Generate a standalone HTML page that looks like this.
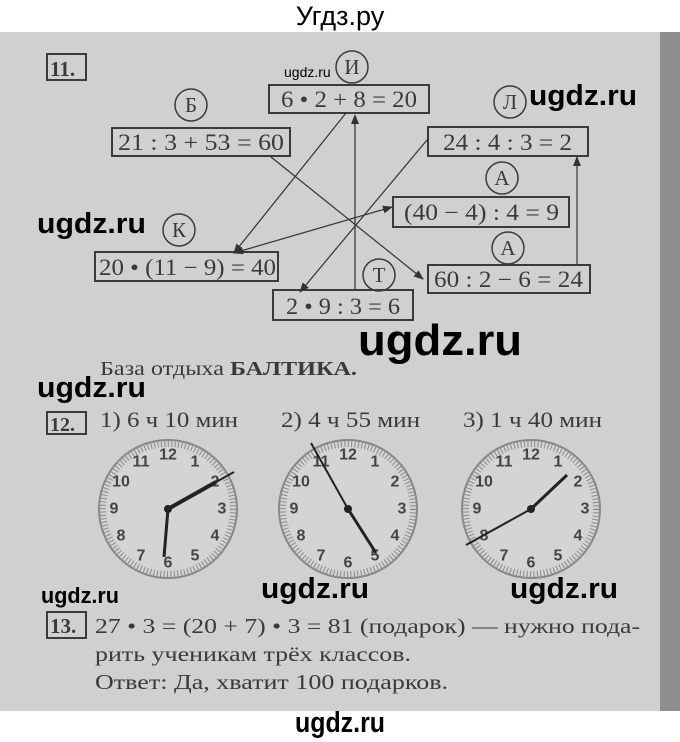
<!DOCTYPE html>
<html><head><meta charset="utf-8"><style>
html,body{margin:0;padding:0;background:#fff}
svg{display:block}
.s{font-family:"Liberation Serif",serif;fill:#3a3a3a}
.w{font-family:"Liberation Sans",sans-serif;font-weight:bold;fill:#000}
.n{font-family:"Liberation Sans",sans-serif;font-weight:bold;font-size:16px;fill:#444;text-anchor:middle;dominant-baseline:central}
</style></head><body>
<svg width="680" height="742" viewBox="0 0 680 742" xmlns="http://www.w3.org/2000/svg">
<defs><marker id="a" markerWidth="10" markerHeight="8" refX="9" refY="4" orient="auto" markerUnits="userSpaceOnUse"><path d="M0,0 L10,4 L0,8 z" fill="#333"/></marker>
<marker id="b" markerWidth="10" markerHeight="8" refX="1" refY="4" orient="auto" markerUnits="userSpaceOnUse"><path d="M10,0 L0,4 L10,8 z" fill="#333"/></marker></defs>
<rect x="0" y="0" width="680" height="742" fill="#fff"/>
<rect x="0" y="32" width="680" height="679" fill="#d0d0d0"/>
<rect x="660" y="32" width="20" height="679" fill="#8f8f8f"/>
<text x="340" y="25" font-family="Liberation Sans, sans-serif" font-size="27" text-anchor="middle" fill="#000">Угдз.ру</text>
<g stroke="#3a3a3a" fill="none" stroke-width="2">
<rect x="47" y="54" width="39" height="26"/>
<rect x="269" y="85" width="160" height="28"/>
<rect x="112" y="128" width="178" height="28"/>
<rect x="428" y="127" width="160" height="29"/>
<rect x="393" y="197" width="176" height="30"/>
<rect x="95" y="252" width="183" height="29"/>
<rect x="273" y="290" width="140" height="30"/>
<rect x="428" y="265" width="162" height="28"/>
<rect x="47" y="412" width="39" height="22"/>
<rect x="47" y="612" width="39" height="26"/>
<g stroke-width="1.5"><circle cx="352" cy="67" r="16"/><circle cx="191" cy="105" r="16"/><circle cx="510" cy="102" r="16"/><circle cx="502" cy="178" r="16"/><circle cx="179" cy="230" r="16"/><circle cx="379" cy="275" r="16"/><circle cx="508" cy="248" r="16"/></g>
</g>
<g stroke="#333" stroke-width="1.2" fill="none">
<line x1="346" y1="113" x2="234" y2="253" marker-end="url(#a)"/>
<line x1="355" y1="290" x2="355" y2="115" marker-end="url(#a)"/>
<line x1="427" y1="140" x2="300" y2="292" marker-end="url(#a)"/>
<line x1="271" y1="157" x2="423" y2="279" marker-end="url(#a)"/>
<line x1="234" y1="253" x2="392" y2="207" marker-start="url(#b)" marker-end="url(#a)"/>
<line x1="577" y1="265" x2="577" y2="157" marker-end="url(#a)"/>
</g>
<g class="s" font-size="23">
<text x="50" y="76" font-weight="bold" font-size="21">11.</text>
<text x="352" y="74" font-size="21" text-anchor="middle">И</text>
<text x="191" y="112" font-size="21" text-anchor="middle">Б</text>
<text x="510" y="109" font-size="21" text-anchor="middle">Л</text>
<text x="502" y="185" font-size="21" text-anchor="middle">А</text>
<text x="179" y="237" font-size="21" text-anchor="middle">К</text>
<text x="379" y="282" font-size="21" text-anchor="middle">Т</text>
<text x="508" y="255" font-size="21" text-anchor="middle">А</text>
<text x="281" y="107" textLength="136" lengthAdjust="spacingAndGlyphs">6 • 2 + 8 = 20</text>
<text x="118" y="150" textLength="166" lengthAdjust="spacingAndGlyphs">21 : 3 + 53 = 60</text>
<text x="443" y="150" textLength="129" lengthAdjust="spacingAndGlyphs">24 : 4 : 3 = 2</text>
<text x="404" y="220" textLength="155" lengthAdjust="spacingAndGlyphs">(40 − 4) : 4 = 9</text>
<text x="99" y="275" textLength="177" lengthAdjust="spacingAndGlyphs">20 • (11 − 9) = 40</text>
<text x="286" y="314" textLength="114" lengthAdjust="spacingAndGlyphs">2 • 9 : 3 = 6</text>
<text x="434" y="287" textLength="149" lengthAdjust="spacingAndGlyphs">60 : 2 − 6 = 24</text>
<text x="100" y="375" font-size="20" textLength="257" lengthAdjust="spacingAndGlyphs">База отдыха <tspan font-weight="bold">БАЛТИКА.</tspan></text>
<text x="50" y="431" font-weight="bold" font-size="20">12.</text>
<text x="100" y="427" font-size="22" textLength="138" lengthAdjust="spacingAndGlyphs">1) 6 ч 10 мин</text>
<text x="281" y="427" font-size="22" textLength="139" lengthAdjust="spacingAndGlyphs">2) 4 ч 55 мин</text>
<text x="463" y="427" font-size="22" textLength="139" lengthAdjust="spacingAndGlyphs">3) 1 ч 40 мин</text>
<text x="50" y="633" font-weight="bold" font-size="21">13.</text>
<text x="95" y="633" font-size="21" textLength="545" lengthAdjust="spacingAndGlyphs">27 • 3 = (20 + 7) • 3 = 81 (подарок) — нужно пода-</text>
<text x="95" y="661" font-size="21" textLength="316" lengthAdjust="spacingAndGlyphs">рить ученикам трёх классов.</text>
<text x="95" y="689" font-size="21" textLength="353" lengthAdjust="spacingAndGlyphs">Ответ: Да, хватит 100 подарков.</text>
</g>
<!-- clocks -->
<g transform="translate(168,509)">
<circle r="69" fill="#d4d4d4" stroke="#888" stroke-width="2"/>
<circle r="65" fill="none" stroke="#8a8a8a" stroke-width="6" stroke-dasharray="1 2.4"/>
<text class="n" x="0" y="-54">12</text><text class="n" x="27" y="-47">1</text><text class="n" x="47" y="-27">2</text><text class="n" x="54" y="0">3</text><text class="n" x="47" y="27">4</text><text class="n" x="27" y="47">5</text><text class="n" x="0" y="54">6</text><text class="n" x="-27" y="47">7</text><text class="n" x="-47" y="27">8</text><text class="n" x="-54" y="0">9</text><text class="n" x="-47" y="-27">10</text><text class="n" x="-27" y="-47">11</text>
<line x1="0" y1="0" x2="66" y2="-37" stroke="#222" stroke-width="2"/><line x1="0" y1="0" x2="48" y2="-27" stroke="#222" stroke-width="4"/>
<line x1="0" y1="0" x2="-4" y2="48" stroke="#222" stroke-width="3"/><circle r="4" fill="#222"/>
</g>
<g transform="translate(348,509)">
<circle r="69" fill="#d4d4d4" stroke="#888" stroke-width="2"/>
<circle r="65" fill="none" stroke="#8a8a8a" stroke-width="6" stroke-dasharray="1 2.4"/>
<text class="n" x="0" y="-54">12</text><text class="n" x="27" y="-47">1</text><text class="n" x="47" y="-27">2</text><text class="n" x="54" y="0">3</text><text class="n" x="47" y="27">4</text><text class="n" x="27" y="47">5</text><text class="n" x="0" y="54">6</text><text class="n" x="-27" y="47">7</text><text class="n" x="-47" y="27">8</text><text class="n" x="-54" y="0">9</text><text class="n" x="-47" y="-27">10</text><text class="n" x="-27" y="-47">11</text>
<line x1="0" y1="0" x2="-37" y2="-66" stroke="#222" stroke-width="2"/>
<line x1="0" y1="0" x2="28" y2="44" stroke="#222" stroke-width="3"/><circle r="4" fill="#222"/>
</g>
<g transform="translate(531,509)">
<circle r="69" fill="#d4d4d4" stroke="#888" stroke-width="2"/>
<circle r="65" fill="none" stroke="#8a8a8a" stroke-width="6" stroke-dasharray="1 2.4"/>
<text class="n" x="0" y="-54">12</text><text class="n" x="27" y="-47">1</text><text class="n" x="47" y="-27">2</text><text class="n" x="54" y="0">3</text><text class="n" x="47" y="27">4</text><text class="n" x="27" y="47">5</text><text class="n" x="0" y="54">6</text><text class="n" x="-27" y="47">7</text><text class="n" x="-47" y="27">8</text><text class="n" x="-54" y="0">9</text><text class="n" x="-47" y="-27">10</text><text class="n" x="-27" y="-47">11</text>
<line x1="0" y1="0" x2="-65" y2="36" stroke="#222" stroke-width="2"/>
<line x1="0" y1="0" x2="36" y2="-34" stroke="#222" stroke-width="3"/><circle r="4" fill="#222"/>
</g>
<!-- watermarks -->
<g class="w">
<text x="284" y="77" font-size="14" style="font-weight:normal">ugdz.ru</text>
<text x="529" y="105" font-size="29" textLength="108" lengthAdjust="spacingAndGlyphs">ugdz.ru</text>
<text x="37" y="233" font-size="29" textLength="109" lengthAdjust="spacingAndGlyphs">ugdz.ru</text>
<text x="358" y="355" font-size="44" textLength="164" lengthAdjust="spacingAndGlyphs">ugdz.ru</text>
<text x="37" y="397" font-size="29" textLength="109" lengthAdjust="spacingAndGlyphs">ugdz.ru</text>
<text x="41" y="603" font-size="22" textLength="78" lengthAdjust="spacingAndGlyphs">ugdz.ru</text>
<text x="261" y="598" font-size="29" textLength="108" lengthAdjust="spacingAndGlyphs">ugdz.ru</text>
<text x="510" y="598" font-size="29" textLength="108" lengthAdjust="spacingAndGlyphs">ugdz.ru</text>
<text x="295" y="732" font-size="29" textLength="90" lengthAdjust="spacingAndGlyphs">ugdz.ru</text>
</g>
</svg>
</body></html>
